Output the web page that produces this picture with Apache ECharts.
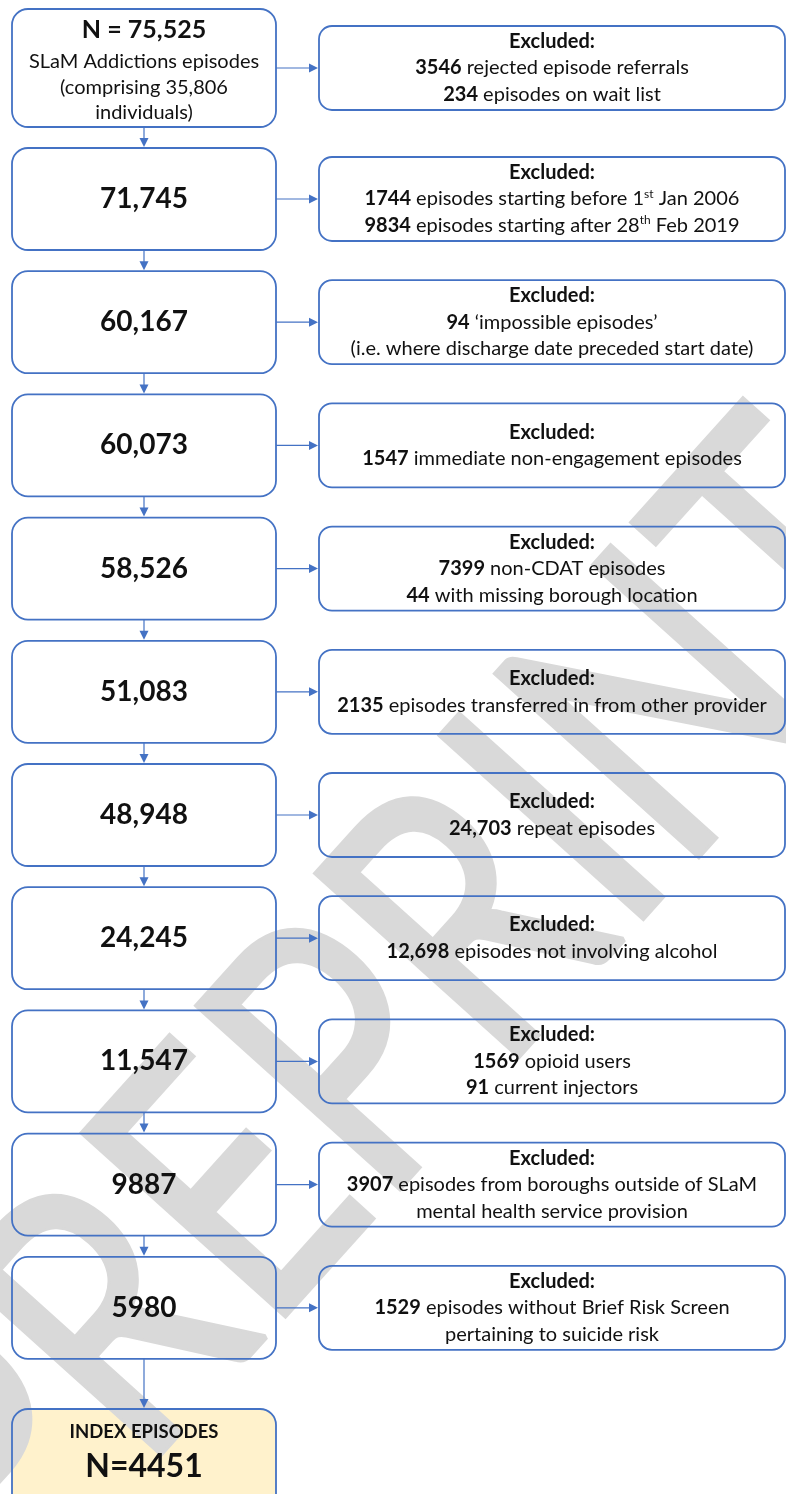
<!DOCTYPE html>
<html>
<head>
<meta charset="utf-8">
<script src="https://cdn.jsdelivr.net/npm/echarts@6/dist/echarts.min.js"></script>
<style>
html,body{margin:0;padding:0;background:#ffffff;}
#chart{width:786px;height:1494px;}
</style>
</head>
<body>
<div id="chart"></div>
<script>
// ---------------- DATA ----------------
const startCount = 'N = 75,525';
const startLines = ['SLaM Addictions episodes', '(comprising 35,806', 'individuals)'];
const remainingCounts = ['71,745', '60,167', '60,073', '58,526', '51,083', '48,948', '24,245', '11,547', '9887', '5980'];
const finalTitle = 'INDEX EPISODES';
const finalCount = 'N=4451';
const excludedHeader = 'Excluded:';
const excludedCounts = [
  ['3546', '234'],
  ['1744', '9834'],
  ['94', null],
  ['1547'],
  ['7399', '44'],
  ['2135'],
  ['24,703'],
  ['12,698'],
  ['1569', '91'],
  ['3907', null],
  ['1529', null]
];
const excludedReasons = [
  ['rejected episode referrals', 'episodes on wait list'],
  ['episodes starting before 1st Jan 2006', 'episodes starting after 28th Feb 2019'],
  ['\u2018impossible episodes\u2019', '(i.e. where discharge date preceded start date)'],
  ['immediate non-engagement episodes'],
  ['non-CDAT episodes', 'with missing borough location'],
  ['episodes transferred in from other provider'],
  ['repeat episodes'],
  ['episodes not involving alcohol'],
  ['opioid users', 'current injectors'],
  ['episodes from boroughs outside of SLaM', 'mental health service provision'],
  ['episodes without Brief Risk Screen', 'pertaining to suicide risk']
];
const watermarkText = 'PREPRINT';

// ---------------- LAYOUT / STYLE ----------------
const FONT = 'Lato';
const BLUE = '#4472C4';
const TXT = '#111111';
const L = {
  leftX0: 12, leftX1: 276, rightX0: 319, rightX1: 785,
  firstTop: 9, firstBottom: 127,
  rowTop1: 148, rowStep: 123.2, boxH: 102,
  finalTop: 1409, finalH: 110,
  exclH: 84, lineGap: 26.5
};
const nRows = 2 + remainingCounts.length; // start + remaining + final
const rowIdx = [];
for (let i = 0; i < nRows; i++) rowIdx.push([i]);

function rowBox(i) {
  if (i === 0) return [L.firstTop, L.firstBottom];
  if (i === nRows - 1) return [L.finalTop, L.finalTop + L.finalH];
  const t = L.rowTop1 + (i - 1) * L.rowStep;
  return [t, t + L.boxH];
}
function supify(s) { return s.replace(/(\d)(st|th)\b/g, '$1{sup|$2}'); }

const richStyles = {
  b: { fontFamily: FONT, fontSize: 20, fontWeight: 'bold', fill: TXT, lineHeight: 26 },
  n: { fontFamily: FONT, fontSize: 20, fontWeight: 'normal', fill: TXT, lineHeight: 26 },
  sup: { fontFamily: FONT, fontSize: 12, fontWeight: 'normal', fill: TXT, lineHeight: 26, verticalAlign: 'top', padding: [2, 0, 0, 0] }
};

function textEl(api, x, y, txt, size, weight, rich) {
  const p = api.coord([x, y]);
  const style = {
    text: txt, x: 0, y: 0, fill: TXT,
    fontFamily: FONT, fontSize: size, fontWeight: weight,
    align: 'center', verticalAlign: 'middle'
  };
  if (rich) style.rich = rich;
  return { type: 'text', x: p[0], y: p[1], style: style };
}
function rectShape(api, x0, y0, x1, y1, r) {
  const p0 = api.coord([x0, y0]);
  const p1 = api.coord([x1, y1]);
  return { x: p0[0], y: p0[1], width: p1[0] - p0[0], height: p1[1] - p0[1], r: r };
}

function renderFill(params, api) {
  const i = api.value(0);
  const [t, b] = rowBox(i);
  const children = [{
    type: 'rect', shape: rectShape(api, L.leftX0, t, L.leftX1, b, 16),
    style: { fill: i === nRows - 1 ? '#FFF2CC' : '#ffffff' }
  }];
  if (i < nRows - 1) {
    const c = (t + b) / 2;
    children.push({
      type: 'rect', shape: rectShape(api, L.rightX0, c - L.exclH / 2, L.rightX1, c + L.exclH / 2, 13),
      style: { fill: '#ffffff' }
    });
  }
  return { type: 'group', children: children };
}

function renderFront(params, api) {
  const i = api.value(0);
  const [t, b] = rowBox(i);
  const c = (t + b) / 2;
  const cx = (L.leftX0 + L.leftX1) / 2;
  const children = [];
  children.push({
    type: 'rect', shape: rectShape(api, L.leftX0, t, L.leftX1, b, 16),
    style: { fill: 'none', stroke: BLUE, lineWidth: 1.8 }
  });
  if (i === 0) {
    children.push(textEl(api, cx, t + 21, startCount, 25, 'bold'));
    startLines.forEach((s, k) => children.push(textEl(api, cx, t + 53 + k * 25.5, s, 20, 'normal')));
  } else if (i === nRows - 1) {
    children.push(textEl(api, cx, t + 23, finalTitle, 18.5, 'bold'));
    children.push(textEl(api, cx, t + 58, finalCount, 32, 'bold'));
  } else {
    children.push(textEl(api, cx, c, remainingCounts[i - 1], 28, 'bold'));
  }
  if (i < nRows - 1) {
    children.push({
      type: 'rect', shape: rectShape(api, L.rightX0, c - L.exclH / 2, L.rightX1, c + L.exclH / 2, 13),
      style: { fill: 'none', stroke: BLUE, lineWidth: 1.8 }
    });
    const counts = excludedCounts[i];
    const reasons = excludedReasons[i];
    const lines = ['{b|' + excludedHeader + '}'];
    reasons.forEach((r, k) => {
      const cnt = counts[k];
      lines.push((cnt ? '{b|' + cnt + '}{n| ' : '{n|') + supify(r).replace(/\{sup\|(\w+)\}/g, '}{sup|$1}{n|') + '}');
    });
    const n = lines.length;
    const rx = (L.rightX0 + L.rightX1) / 2;
    lines.forEach((ln, k) => {
      children.push(textEl(api, rx, c + (k - (n - 1) / 2) * L.lineGap, ln, 20, 'normal', richStyles));
    });
    const a0 = api.coord([L.leftX1, c]);
    const a1 = api.coord([L.rightX0 - 1, c]);
    children.push({ type: 'line', shape: { x1: a0[0], y1: a0[1], x2: a1[0] - 7, y2: a1[1] }, style: { stroke: BLUE, lineWidth: 1.2 } });
    children.push({ type: 'polygon', shape: { points: [[a1[0], a1[1]], [a1[0] - 9, a1[1] - 4.5], [a1[0] - 9, a1[1] + 4.5]] }, style: { fill: BLUE } });
    const [nt] = rowBox(i + 1);
    const v0 = api.coord([cx, b]);
    const v1 = api.coord([cx, nt - 1]);
    children.push({ type: 'line', shape: { x1: v0[0], y1: v0[1], x2: v1[0], y2: v1[1] - 7 }, style: { stroke: BLUE, lineWidth: 1.2 } });
    children.push({ type: 'polygon', shape: { points: [[v1[0], v1[1]], [v1[0] - 4.5, v1[1] - 9], [v1[0] + 4.5, v1[1] - 9]] }, style: { fill: BLUE } });
  }
  return { type: 'group', children: children };
}

const chart = echarts.init(document.getElementById('chart'), null, { renderer: 'canvas' });
chart.setOption({
  backgroundColor: '#ffffff',
  animation: false,
  grid: { left: 0, right: 0, top: 0, bottom: 0 },
  xAxis: { type: 'value', min: 0, max: 786, show: false },
  yAxis: { type: 'value', min: 0, max: 1494, inverse: true, show: false },
  graphic: [{
    type: 'text', silent: true, z: 5,
    x: 395, y: 1010, rotation: 48 * Math.PI / 180, scaleX: 0.78, scaleY: 1,
    style: {
      text: watermarkText, fontFamily: FONT, fontSize: 380, fontWeight: 'normal',
      fill: '#d9d9d9', stroke: '#d9d9d9', lineWidth: 6, lineJoin: 'round',
      align: 'center', verticalAlign: 'middle'
    }
  }],
  series: [
    { type: 'custom', name: 'fills', z: 1, silent: true, clip: false, data: rowIdx, renderItem: renderFill },
    { type: 'custom', name: 'front', z: 10, silent: true, clip: false, data: rowIdx, renderItem: renderFront }
  ]
});
</script>
</body>
</html>
